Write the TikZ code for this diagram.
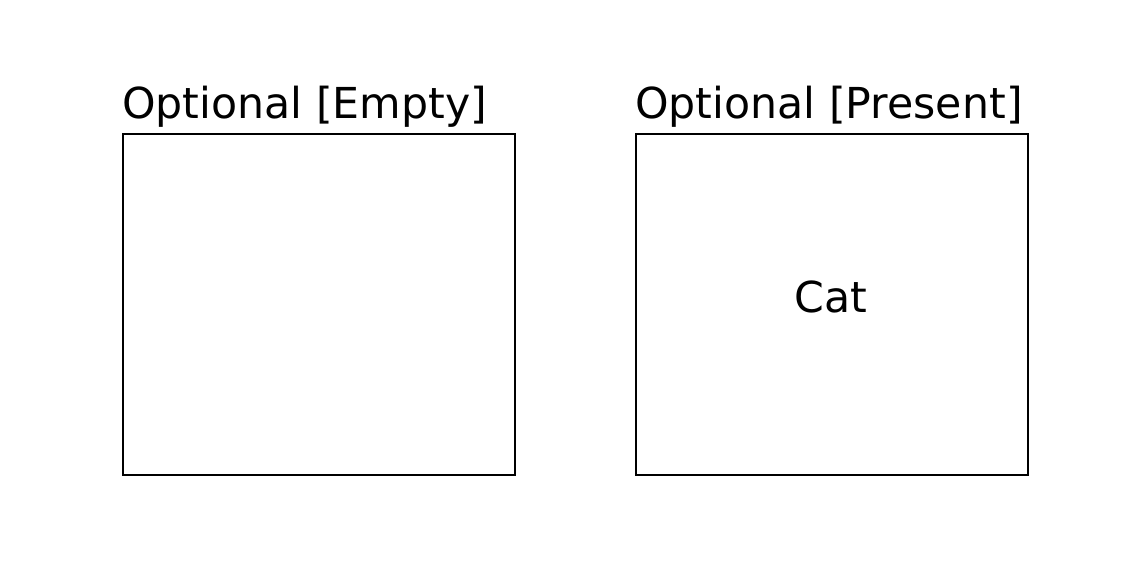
\documentclass[tikz,border=0pt]{standalone}
\usepackage{fontspec}
\setmainfont{DejaVu Sans}
\usetikzlibrary{positioning}

\begin{document}
\begin{tikzpicture}[x=0.75pt,y=-0.75pt,
    panel/.style={draw=black,line width=0.9pt,minimum width=294pt,minimum height=255.75pt,inner sep=0pt},
    heading/.style={font=\fontsize{32pt}{38pt}\selectfont,inner sep=0pt,anchor=base west},
    content/.style={font=\fontsize{32pt}{38pt}\selectfont,inner sep=0pt}]
    \useasboundingbox (0,0) rectangle (1141,578);
    %the two boxes
    \node[panel] (empty) at (319,304.5) {};
    \node[panel] (present) at (832,304.5) {};
    %headings over the boxes
    \node[heading] (emptytitle) at (122,118) {Optional [Empty]};
    \node[heading] (presenttitle) at (635,118) {Optional [Present]};
    \node[content] (cat) at (831,297) {Cat};
\end{tikzpicture}
\end{document}
